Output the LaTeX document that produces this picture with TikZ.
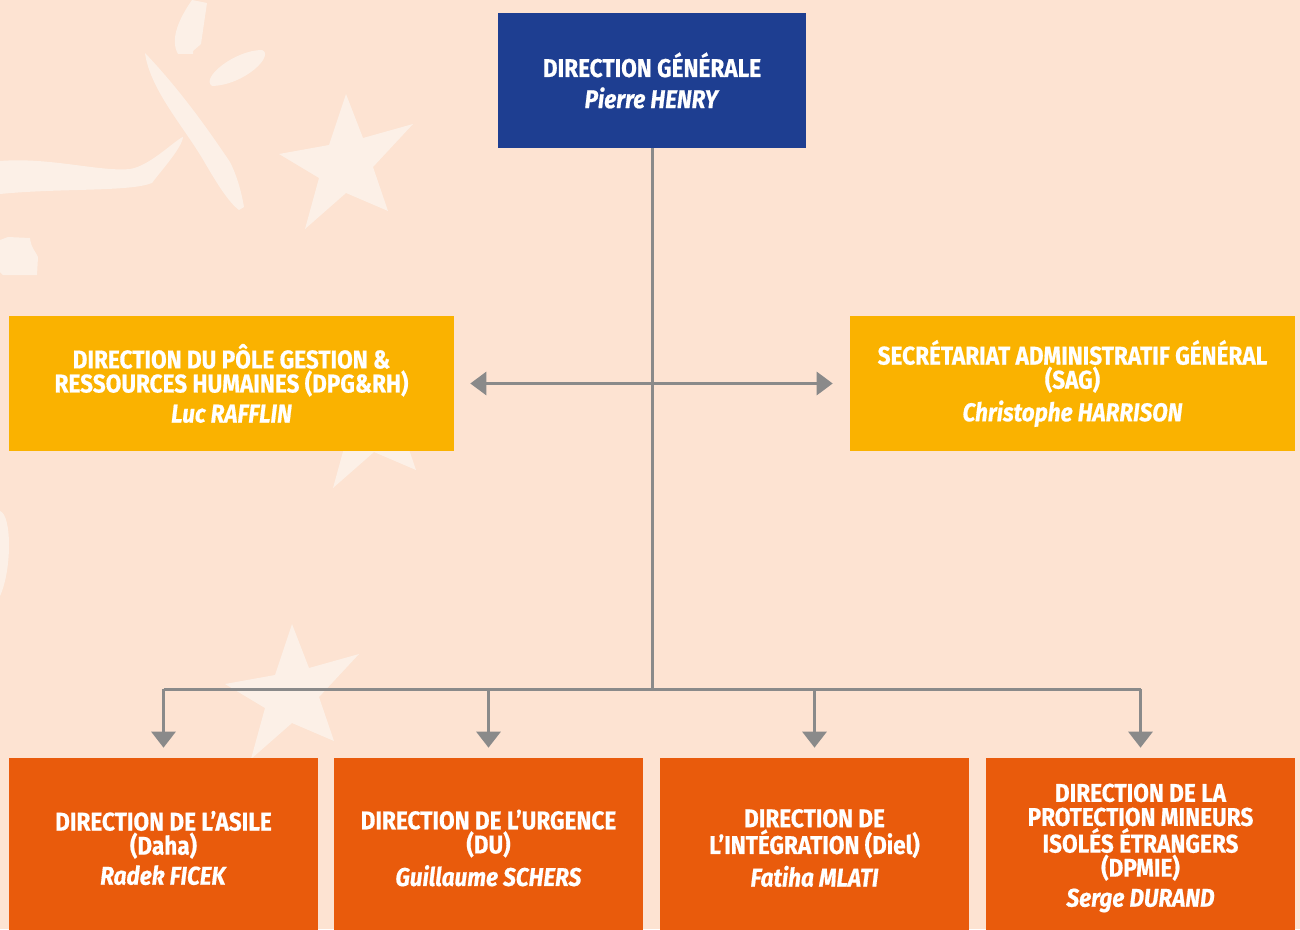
\documentclass[tikz,border=0pt]{standalone}
\usepackage{fontspec}
\setmainfont{Fira Sans}[FakeStretch=0.88,
  BoldFeatures={FakeBold=0.6}, BoldItalicFeatures={FakeBold=0.6}]
\usetikzlibrary{arrows.meta}

\definecolor{peach}{RGB}{253,227,210}
\definecolor{decopeach}{RGB}{252,240,231}
\definecolor{dgblue}{RGB}{30,62,145}
\definecolor{poleyellow}{RGB}{250,178,0}
\definecolor{dirorange}{RGB}{233,91,12}
\definecolor{linegray}{RGB}{138,138,138}

\tikzset{
  box/.style={rectangle, inner sep=0pt, align=center, text=white,
    font=\fontsize{14.6}{13.7}\selectfont\bfseries},
  dgbox/.style={box, fill=dgblue, minimum width=6.18cm, minimum height=2.7cm},
  polebox/.style={box, fill=poleyellow, minimum width=8.9cm, minimum height=2.7cm},
  dirbox/.style={box, fill=dirorange, minimum width=6.18cm, minimum height=3.6cm},
  link/.style={draw=linegray, line width=0.06cm},
  droparrow/.style={link, -{Triangle[length=0.32cm,width=0.48cm]}},
  biarrow/.style={link, {Triangle[length=0.32cm,width=0.46cm]}-{Triangle[length=0.32cm,width=0.46cm]}},
  deco/.style={fill=decopeach}
}

\begin{document}
\begin{tikzpicture}[x=0.02cm,y=-0.02cm]
        \clip (0,0) rectangle (1300,929);
        \fill[peach] (0,0) rectangle (1300,929);

        % background decoration
        \foreach \dx/\dy in {0/0, 28/259, -54/530}
          \fill[deco, shift={(\dx,\dy)}] (346,94) -- (363,138) -- (413,124) -- (373,167) -- (388,211)
            -- (346,193) -- (305,229) -- (319,178) -- (279,154) -- (329,145) -- cycle;
        \fill[deco] (192,0) -- (207,3) -- (201,44) -- (193,51) -- (193,54) -- (178,54)
            .. controls (170,40) and (178,20) .. (192,0) -- cycle;
        \fill[deco] (212,86) .. controls (200,78) and (235,50) .. (262,50)
            .. controls (275,55) and (245,85) .. (212,86) -- cycle;
        \fill[deco] (145,53) .. controls (185,95) and (215,140) .. (230,162)
            .. controls (238,178) and (242,195) .. (244,207) -- (239,210)
            .. controls (228,202) and (215,180) .. (205,163)
            .. controls (185,128) and (150,90) .. (145,53) -- cycle;
        \fill[deco] (0,161) .. controls (50,157) and (100,172) .. (130,169)
            .. controls (150,166) and (175,140) .. (183,137)
            .. controls (182,148) and (160,172) .. (152,183)
            .. controls (130,192) and (60,188) .. (0,194) -- cycle;
        \fill[deco] (0,240) -- (8,237) -- (30,238) .. controls (31,248) and (36,252) .. (38,257)
            -- (37,275) -- (3,275) -- (0,272) -- cycle;
        \fill[deco] (0,511) .. controls (12,515) and (12,570) .. (0,596) -- cycle;

        % boxes
        \draw (652,80.5) node[dgbox] (DG) {DIRECTION GÉNÉRALE\\[4pt]\textit{Pierre HENRY}};
        \draw (231.5,383.5) node[polebox] (PGRH) {DIRECTION DU PÔLE GESTION \&\\RESSOURCES HUMAINES (DPG\&RH)\\[3.4pt]\textit{Luc RAFFLIN}};
        \draw (1072.5,383.5) node[polebox] (SAG) {SECRÉTARIAT ADMINISTRATIF GÉNÉRAL\\(SAG)\\[3.4pt]\textit{Christophe HARRISON}};

        \draw (163.5,848) node[dirbox] (Asile) {DIRECTION DE L’ASILE\\(Daha)\\[3.4pt]\textit{Radek FICEK}};
        \draw (488.5,848) node[dirbox] (Urgence) {DIRECTION DE L’URGENCE\\(DU)\\[3.4pt]\textit{Guillaume SCHERS}};
        \draw (814.5,848) node[dirbox] (Integ) {DIRECTION DE\\L’INTÉGRATION (Diel)\\[3.4pt]\textit{Fatiha MLATI}};
        \draw (1140.5,848) node[dirbox] (DPMIE) {DIRECTION DE LA\\PROTECTION MINEURS\\ISOLÉS ÉTRANGERS\\(DPMIE)\\[3.4pt]\textit{Serge DURAND}};

        \coordinate (hub) at (652,689);

        \draw[link] (DG.south) -- (hub);
        \draw[biarrow, shorten <=0.32cm, shorten >=0.34cm] (PGRH.east) -- (SAG.west);
        \draw[link] (Asile.north |- hub) -- (DPMIE.north |- hub);
        \draw[droparrow, shorten >=0.2cm] (Asile.north |- hub) -- (Asile.north);
        \draw[droparrow, shorten >=0.2cm] (Urgence.north |- hub) -- (Urgence.north);
        \draw[droparrow, shorten >=0.2cm] (Integ.north |- hub) -- (Integ.north);
        \draw[droparrow, shorten >=0.2cm] (DPMIE.north |- hub) -- (DPMIE.north);
    \end{tikzpicture}
\end{document}
